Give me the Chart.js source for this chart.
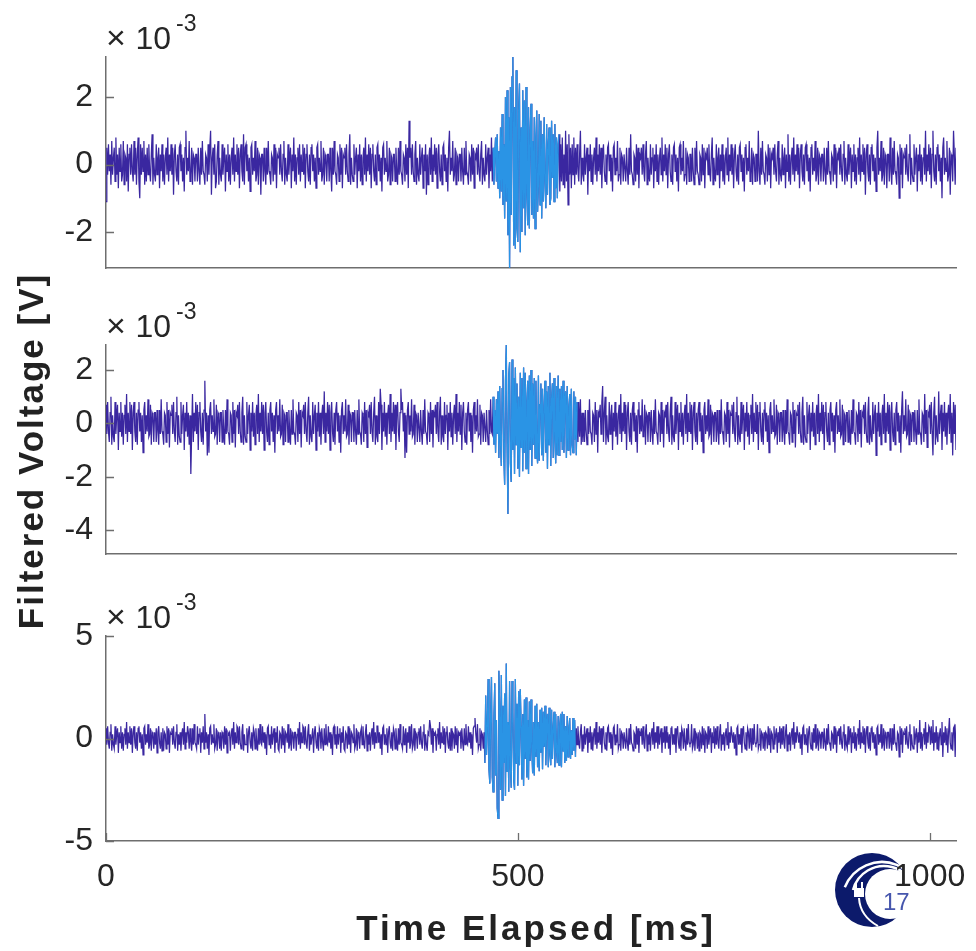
<!DOCTYPE html>
<html>
<head>
<meta charset="utf-8">
<script src="https://cdn.jsdelivr.net/npm/chart.js@4/dist/chart.umd.min.js"></script>
<style>
    body { margin: 0; background: #fff; }
    #wrap { position: relative; width: 976px; height: 951px; }
    #wrap canvas { position: absolute; left: 0; top: 0; }
</style>
</head>
<body>
<div id="wrap">
    <canvas id="ch1" width="976" height="951"></canvas>
    <canvas id="ch2" width="976" height="951"></canvas>
    <canvas id="ch3" width="976" height="951"></canvas>
</div>
<script>
// time base (ms): one sample every SAMPLE_MS, last sample at T_END
const SAMPLE_MS = 1;
const T_END = 1032;
const X_TICKS = [0, 500, 1000];

// filtered voltage, units of 1e-3 V, 50 samples per line
const ch1 = [
    -1.1,.5,-.3,.6,-.2,.3,-.6,.7,-.3,.2, .5,-.5,.8,-.3,.3,-.7,.5,-.2,.6,-.5, -.3,.7,-.6,.3,.2,-.5,.6,-.8,.3,.5, -.3,.6,-.2,-.5,.7,-.3,.5,-.6,.3,.8, -.5,-1.0,.6,-.3,.5,-.2,.7,-.6,.3,-.5,
    .5,-.3,.6,-.2,-.5,.3,.9,-.6,.2,-.3, -.5,.6,-.3,.2,.5,-.7,.3,-.2,.6,-.5, .3,-.6,.2,.5,-.3,.8,-.5,.3,-.2,.6, -.3,.5,-.9,.3,.6,-.2,-.5,.3,-.6,.5, .6,-.2,.3,-.5,.2,-.8,.5,1.0,-.3,.2,
    -.2,.7,-.5,-.3,.5,-.6,.3,.2,-.5,.3, .3,-.5,.5,-.2,-.6,.5,-.3,.7,-.2,-.3, -.6,.3,.2,-.5,.6,-.3,.5,1.0,-.9,.2, .5,-.3,.6,-.7,-.5,.3,.7,-.6,.2,-.3, -.5,.6,-.3,.2,.5,-.8,.3,-.2,.6,-.5,
    .3,-.6,.2,.5,-.3,.8,-.5,.3,-.2,.6, -.3,.5,-.7,.3,.6,-.2,-.5,.9,-.6,.5, .6,-.2,.3,-.5,.2,-.8,.5,.6,-.3,.2, -.2,.7,-.5,-.3,.5,-.6,.3,.2,-.9,.3, .3,-.5,.5,-.2,-.6,.5,-.3,.7,-.2,-.3,
    -.6,.3,.2,-.5,.6,-.3,.5,-.7,.3,.2, .5,-.3,.6,-.2,-.5,.3,.7,-.6,.2,-.3, -.5,.6,-.3,.2,.5,-.7,.3,-.2,.8,-.5, .3,-.6,.2,.5,-.3,.6,-.5,.3,-.2,.6, -.3,.5,-.7,.3,.6,-.2,-.5,.3,-.6,.5,
    .6,-.2,.3,-.5,.2,-.7,.5,.6,-.3,.2, -.2,.7,-.5,-.3,.5,-.6,.3,.2,-.5,.3, .3,-.5,.5,-.2,-.8,.5,-.3,.7,-.2,-.3, -.6,.3,.2,-.5,.6,-.3,.5,-.7,.3,.2, .5,-.3,.6,-.2,-.5,.3,.9,-.6,.2,-.3,
    -.5,.6,-.3,.2,.5,-.7,.3,-.2,.6,-.5, .3,-.6,.2,.5,-.3,.8,-.5,.3,-.2,.6, -.3,.5,-.7,.3,.6,-.2,-.5,.3,-.6,.5, .6,-.2,.3,-.5,.2,-.8,.5,.6,-.3,.2, -.2,.7,-.5,-.3,.5,-.6,.3,.2,-.5,.3,
    .3,-.5,.5,-.2,-.6,.5,-.3,.7,-.2,-.3, -.6,.3,.2,-.5,.6,-.3,.5,-.7,1.3,.2, .5,-.3,.6,-.2,-.5,.3,.7,-.6,.2,-.3, -.5,.6,-.3,.2,.5,-.7,.3,-.2,.6,-.9, .3,-.6,.2,.5,-.3,.8,-.5,.3,-.2,.6,
    -.3,.5,-.7,.3,.6,-.2,-.5,.3,-.6,.5, .6,-.2,.3,-.5,.2,-.8,.5,1.0,-.3,.2, -.2,.7,-.5,-.3,.5,-.6,.3,.2,-.5,.3, .3,-.5,.5,-.2,-.6,.5,-.3,.7,-.2,-.3, -.6,.3,.2,-.5,.6,-.3,.5,-.7,.3,.2,
    .5,-.3,.6,-.2,-.5,.3,.7,-.6,.2,-.3, -.5,.6,-.3,.2,.5,-.7,.3,-.2,.8,-.5, .5,-.6,.3,.8,-.5,.9,-.7,.4,-1.0,1.1, -.8,1.5,-1.2,.6,-1.6,2.0,-1.1,2.2,-2.1,1.4, -3.07,2.3,-1.5,2.6,3.19,-2.4,1.7,-2.5,2.8,-1.9,
    -2.3,1.6,2.4,-2.6,1.1,-2.0,2.2,-1.3,1.9,-2.1, 2.3,-.9,-1.8,1.7,-1.9,1.0,1.8,-1.5,.7,-1.6, 1.4,-1.9,.8,1.6,-1.4,-.6,1.5,-1.2,1.3,-1.6, .9,-1.1,1.4,-.5,-1.3,1.2,-.9,.6,1.1,-1.2, -1.0,1.3,-.4,.9,-1.1,1.2,-.7,.8,-1.0,.6,
    .9,-.8,.6,-.5,.8,-.6,.3,-.7,1.0,-.5, .6,-1.2,.9,-.3,.5,-.7,.6,-.3,.8,-.6, .5,-.3,.6,-.2,-.5,.3,1.0,-.6,.2,-.3, -.5,.6,-.3,.2,.5,-.9,.3,-.2,.6,-.5, .3,-.6,.2,.5,-.3,.8,-.5,.3,-.2,.6,
    -.3,.5,-.7,.3,.6,-.2,-.5,.3,-.6,.5, .6,-.2,.3,-.5,.2,-.8,.5,.6,-.3,.2, -.2,.7,-.5,-.3,.5,-.6,.3,.2,-.5,.3, .3,-.5,.5,-.2,-.6,.5,-.3,.9,-.2,-.3, -.6,.3,.2,-.5,.6,-.3,.5,-.7,.3,.2,
    .5,-.3,.6,-.2,-.5,.3,.7,-.6,.2,-.3, -.5,.6,-.3,.2,.5,-.7,.3,-.2,.6,-.5, .3,-.6,.2,.5,-.3,.8,-.5,.3,-.2,.6, -.3,.5,-.7,.3,.6,-.2,-.5,.3,-.6,.5, .6,-.2,.3,-.5,.2,-.8,.5,.6,-.3,.2,
    -.2,.7,-.5,-.3,.5,-.6,.3,.2,-.5,.3, .3,-.5,.5,-.2,-.6,.5,-.3,.7,-.2,-.3, -.6,.3,.2,-.5,.6,-.3,.5,-.7,.3,.2, .5,-.3,.6,-.2,-.5,.3,.8,-.6,.2,-.3, -.5,.6,-.3,.2,.5,-.7,.3,-.2,.6,-.5,
    .3,-.6,.2,.5,-.3,.8,-.5,.3,-.2,.6, -.3,.5,-.7,.3,.6,-.2,-.5,.3,-.6,.5, .6,-.2,.3,-.5,.2,-.8,.5,.6,-.3,.2, -.2,.7,-.5,-.3,.5,-.6,.3,.2,-.5,.3, .3,-.5,1.0,-.2,-.6,.5,-.3,.7,-.2,-.3,
    -.6,.3,.2,-.5,.6,-.3,.5,-.7,.3,.2, .5,-.3,.6,-.2,-.5,.3,.7,-.6,.2,-.3, -.5,.6,-.3,.2,.5,-.7,.3,-.2,.9,-.5, .3,-.6,.2,.5,-.3,.8,-.5,.3,-.2,.6, -.3,.5,-.7,.3,.6,-.2,-.5,.3,-.6,.5,
    .6,-.2,.3,-.5,.2,-.8,.5,.6,-.3,.2, -.2,.7,-.5,-.3,.5,-.6,.3,.2,-.5,.3, .3,-.5,.5,-.2,-.6,.5,-.3,.7,-.2,-.3, -.6,.3,.2,-.5,.6,-.3,.5,-.7,.3,.2, .5,-.3,.6,-.2,-.5,.3,.7,-.6,.2,-.3,
    -.5,.6,-.3,.2,.5,-.7,.3,-.2,.6,-.5, .3,-.6,.2,.5,-.3,.8,-.5,.3,-.2,.6, -.3,.5,-.9,.3,.6,-.2,-.5,.3,-.6,.5, .6,-.2,.3,-.5,.2,-.8,.5,1.0,-.3,.2, -.2,.7,-.5,-.3,.5,-.6,.3,.2,-.7,.3,
    .3,-.5,.8,-.2,-.6,.5,-.3,.7,-.2,-.3, -.6,.3,.2,-1.0,.6,-.3,.5,-.7,.3,.2, .5,-.3,.6,-.2,-.5,.3,.9,-.6,.2,-.3, -.5,.6,-.3,.2,.5,-.8,.3,-.2,.6,-.5, .3,-.6,.2,.5,-.3,1.0,-.5,.3,-.2,.6,
    -.3,.5,-.7,.3,1.0,-.2,-.5,.3,-.6,.5, .6,-.2,.3,-.5,.2,-1.0,.5,.8,-.3,.2, -.2,.7,-.5,-.3,.5,-.9,.3,.2,-.5,1.0, .3,-.6,.5
];
const ch2 = [
    .7,-.4,.8,-.3,-.7,.4,1.0,-.8,.3,-.5, -.7,.8,-.4,.3,.7,-1.0,.4,-.3,.8,-.5, .4,-.8,.3,.7,-.4,1.1,-.7,.4,-.3,.8, -.4,.7,-1.0,.4,.8,-.3,-.7,.4,-.8,.5, .8,-.3,.4,-.7,.3,-1.1,.5,.8,-.4,.3,
    -.3,.9,-.5,-.4,.7,-.8,.4,.3,-.7,.4, .4,-.7,.5,-.3,-.8,.5,-.4,.9,-.3,-.4, -.8,.4,.3,-.7,.8,-.4,.5,-.9,.4,.3, .7,-.4,.8,-.3,-.7,.4,1.0,-.8,.3,-.5, -.7,.8,-.4,.3,.7,-1.0,.4,-.3,.8,-.5,
    .4,-.8,.3,-1.9,-.4,1.1,-.7,.4,-.3,.8, -.4,.7,-1.0,.4,.8,-.3,-.7,.4,-.8,.5, 1.6,-.3,.4,-1.2,.3,-1.1,.5,.8,-.4,.3, -.3,.9,-.5,-.4,.7,-.8,.4,.3,-.7,.4, .4,-.7,.5,-.3,-.8,.5,-.4,.9,-.3,-.4,
    -.8,.4,.3,-.7,.8,-.4,.5,-.9,.4,.3, .7,-.4,.8,-.3,-.7,.4,1.0,-.8,.3,-.5, -.7,.8,-.4,.3,.7,-1.0,.4,-.3,.8,-.5, .4,-.8,.3,.7,-.4,1.1,-.7,.4,-.3,.8, -.4,.7,-1.0,.4,.8,-.3,-.7,.4,-.8,.5,
    .8,-.3,.4,-.7,.3,-1.1,.5,.8,-.4,.3, -.3,.9,-.5,-.4,.7,-.8,.4,.3,-.7,.4, .4,-.7,.5,-.3,-.8,.5,-.4,.9,-.3,-.4, -.8,.4,.3,-.7,.8,-.4,.5,-.9,.4,.3, .7,-.4,.8,-.3,-.7,.4,1.0,-.8,.3,-.5,
    -.7,.8,-.4,.3,.7,-1.0,.4,-.3,.8,-.5, .4,-.8,.3,.7,-.4,1.2,-.7,.4,-.3,.8, -.4,.7,-1.0,.4,.8,-.3,-.7,.4,-.8,.5, .8,-.3,.4,-.7,.3,-1.1,.5,.8,-.4,.3, -.3,.9,-.5,-.4,.7,-.8,.4,.3,-.7,.4,
    .4,-.7,.5,-.3,-.8,.5,-.4,.9,-.3,-.4, -.8,.4,.3,-.7,.8,-.4,.5,-.9,.4,.3, .7,-.4,.8,-.3,-.7,.4,1.0,-.8,.3,-.5, -.7,.8,-.4,1.3,.7,-1.0,.4,-.3,.8,-.5, .4,-.8,.3,.7,-.4,1.1,-.7,.4,-.3,.8,
    -.4,.7,-1.0,.4,.8,-.3,-.7,.4,1.3,.5, .8,-.3,.4,-1.3,.3,-1.1,.5,.8,-.4,.3, -.3,.9,-.5,-.4,.7,-.8,.4,.3,-.7,.4, .4,-.7,.5,-.3,-.8,.5,-.4,.9,-.3,-.4, -.8,.4,.3,-.7,.8,-.4,.5,-.9,.4,.3,
    .7,-.4,.8,-.3,-.7,.4,1.0,-.8,.3,-.5, -.7,.8,-.4,.3,.7,-1.0,.4,-.3,.8,-.5, .4,-.8,.3,.7,-.4,1.1,-.7,.4,-.3,.8, -.4,.7,-1.0,.4,.8,-.3,-.7,.4,-.8,.5, .8,-.3,.4,-.7,.3,-1.1,.5,.8,-.4,.3,
    -.3,.9,-.5,-.4,.7,-.8,.4,.3,-.7,.4, .4,-.7,.5,-.3,-.8,.5,-.4,.9,-.3,-.4, 1.0,-.8,.5,-1.1,.9,-.4,1.2,-1.3,1.4,-.7, -1.6,1.3,2.0,-1.2,-2.3,1.6,2.94,-.9,-3.4,1.8, 2.3,-1.5,-2.2,2.4,-1.0,1.7,-1.9,2.1,-.8,1.5,
    -1.7,1.0,-2.0,1.9,-.9,1.7,-1.8,2.1,-1.1,1.9, -1.7,.8,1.6,-1.9,1.8,-1.0,2.0,-1.6,1.5,-.8, 1.7,-1.3,1.6,-.9,-1.5,1.8,-1.4,.7,1.5,-1.2, 1.3,-1.4,.6,1.6,-1.1,1.2,-1.7,1.4,-.8,1.9, -1.6,.9,1.5,-1.3,1.7,-.6,-1.5,1.4,-1.2,1.8,
    -1.2,1.3,-.7,1.4,-1.0,1.6,-1.1,.8,1.2,-1.3, 1.4,-1.0,.6,1.1,-1.2,1.3,-.8,-1.1,1.2,-.6, 1.0,-1.2,.8,-.7,.8,-.5,.9,-.8,.4,-.7, .4,-.7,.5,-.3,-.8,.5,-.4,.9,-.3,-.4, -.8,.4,.3,-.7,.8,-.4,.5,-1.1,.4,.3,
    .7,-.4,.8,1.4,-.7,.4,1.0,-.8,.3,-.5, -.7,.8,-.4,.3,.7,-1.0,.4,-.3,.8,-.5, .4,-.8,.3,.7,-.4,1.1,-.7,.4,-.3,.8, -.4,.7,-1.0,.4,.8,-.3,-.7,.4,-.8,.5, .8,-.3,.4,-.7,.3,-1.1,.5,.8,-.4,.3,
    -.3,.9,-.5,-.4,.7,-.8,.4,.3,-.7,.4, .4,-.7,.5,-.3,-.8,.5,-.4,.9,-.3,-.4, -.8,.4,.3,-.7,.8,-.4,.5,-.9,.4,.3, .7,-.4,.8,-.3,-.7,.4,1.0,-.8,.3,-.5, -.7,.8,-.4,.3,.7,-1.0,.4,-.3,.8,-.5,
    .4,-.8,.3,.7,-.4,1.1,-.7,.4,-.3,.8, -.4,.7,-1.0,.4,.8,-.3,-.7,.4,-.8,.5, .8,-.3,.4,-.7,.3,-1.1,.5,.8,-.4,.3, -.3,.9,-.5,-.4,.7,-.8,.4,.3,-.7,.4, .4,-.7,.5,-.3,-.8,.5,-.4,.9,-.3,-.4,
    -.8,.4,.3,-.7,.8,-.4,.5,-.9,.4,.3, .7,-.4,.8,-.3,-.7,.4,1.0,-.8,.3,-.5, -.7,.8,-.4,.3,.7,-1.0,.4,-.3,.8,-.5, .4,-.8,.3,.7,-.4,1.1,-.7,.4,-.3,.8, -.4,.7,-1.0,.4,.8,-.3,-.7,.4,-.8,.5,
    .8,-.3,.4,-.7,.3,-1.1,.5,.8,-.4,.3, -.3,.9,-.5,-.4,.7,-.8,.4,.3,-.7,.4, .4,-.7,.5,-.3,-.8,.5,-.4,.9,-.3,-.4, -.8,.4,.3,-.7,.8,-.4,.5,-.9,.4,.3, .7,-.4,.8,-.3,-.7,.4,1.0,-.8,.3,-.5,
    -.7,.8,-.4,.3,.7,-1.0,.4,-.3,.8,-.5, .4,-.8,.3,.7,-.4,1.1,-.7,.4,-.3,.8, -.4,.7,-1.0,.4,.8,-.3,-.7,.4,-.8,.5, .8,-.3,.4,-.7,.3,-1.1,.5,.8,-.4,.3, -.3,.9,-.5,-.4,.7,-.8,.4,.3,-.7,.4,
    .4,-.7,.5,-.3,-.8,.5,-.4,.9,-.3,-.4, -.8,.4,.3,-.7,.8,-.4,.5,-.9,.4,.3, .7,-.4,.8,-.3,-.7,.4,1.0,-.8,.3,-.5, -.7,.8,-.4,.3,.7,-1.2,.4,-.3,.8,-.5, .4,-.8,.3,.7,-.4,1.1,-.7,.4,-.3,.8,
    -.4,.7,-1.0,.4,.8,-.3,-.7,.4,-.8,.5, .8,-.3,.4,-.7,.3,-1.1,.5,1.2,-.4,.3, -.3,.9,-.5,-.4,.7,-.8,.4,.3,-.7,.4, .4,-.7,.5,-.3,-.8,.5,-.4,.9,-.3,-.4, -.8,.4,.3,-.7,1.1,-.4,.5,-.9,.4,.3,
    .7,-.4,.8,-.3,-1.2,.4,1.0,-.8,.3,-.5, -.7,1.2,-.4,.3,.7,-1.0,.4,-.3,.8,-.5, .4,-.8,.3,.7,-.4,1.1,-.7,.4,-1.2,.8, -.4,.7,-1.0
];
const ch3 = [
    .5,-.3,.6,-.2,-.5,.3,.7,-.6,.2,-.3, -.5,.6,-.3,.2,.5,-.7,.3,-.2,.6,-.5, .3,-.6,.2,.5,-.3,.8,-.5,.3,-.2,.6, -.3,.5,-.7,.3,.6,-.2,-.5,.3,-.6,.5, .6,-.2,.3,-.5,.2,-.8,.5,.6,-.3,.2,
    -.2,.7,-.5,-.3,.5,-.6,.3,.2,-.5,.3, -.3,.5,-.7,.3,.6,-.2,-.5,.3,-.6,.5, -.6,.3,.2,-.5,.6,-.3,.5,-.7,.3,.2, .5,-.3,.6,-.2,-.5,.3,.7,-.6,.2,-.3, .3,-.6,.2,.5,-.3,.8,-.5,.3,-.2,.6,
    .3,-.5,.5,-.2,-.6,.5,-.3,.7,-.2,-.3, -.5,.6,-.3,.2,.5,-.7,.3,-.2,.6,-.5, 1.2,-.2,.3,-.5,.2,-.8,.5,.6,-.3,.2, -.2,.7,-.5,-.3,.5,-.6,.3,.2,-.5,.3, -.6,.3,.2,-.5,.6,-.3,.5,-.7,.3,.2,
    .3,-.6,.2,.5,-.3,.8,-.5,.3,-.2,.6, .5,-.3,.6,-.2,-.5,.3,.7,-.6,.2,-.3, -.3,.5,-.7,.3,.6,-.2,-.5,.3,-.6,.5, .3,-.5,.5,-.2,-.6,.5,-.3,.7,-.2,-.3, .6,-.2,.3,-.5,.2,-.8,.5,.6,-.3,.2,
    -.5,.6,-.3,.2,.5,-.7,.3,-.2,.6,-.5, -.6,.3,.2,-.5,.6,-.3,.5,-.7,.3,.2, -.2,.7,-.5,-.3,.5,-.6,.3,.2,-.5,.3, .3,-.6,.2,.5,-.3,.8,-.5,.3,-.2,.6, .5,-.3,.6,-.2,-.5,.3,.7,-.6,.2,-.3,
    -.3,.5,-.7,.3,.6,-.2,-.5,.3,-.6,.5, .3,-.5,.5,-.2,-.6,.5,-.3,.7,-.2,-.3, .6,-.2,.3,-.5,.2,-.8,.5,.6,-.3,.2, -.5,.6,-.3,.2,.5,-.7,.3,-.2,.6,-.5, -.6,.3,.2,-.5,.6,-.3,.5,-.7,.3,.2,
    -.2,.7,-.5,-.3,.5,-.6,.3,.2,-.5,.3, .5,-.3,.6,-.2,-.5,.3,.7,-.6,.2,-.3, .3,-.6,.2,.5,-.3,.8,-.5,.3,-.2,.6, .6,-.2,.3,-.5,.2,-.8,.5,.6,-.3,.2, -.3,.5,-.7,.3,.6,-.2,-.5,.3,-.6,.5,
    .3,-.5,.5,-.2,-.6,.5,-.3,.7,-.2,-.3, -.5,.6,-.3,.2,.5,-.7,.3,-.2,.6,-.5, -.2,.7,-.5,-.3,.5,-.6,.3,.2,-.5,.3, .5,-.3,.6,-.2,-.5,.3,.7,-.6,.2,-.3, -.6,.3,.2,.9,.6,-.3,.5,-.7,.3,.2,
    .3,-.6,.2,.5,-.3,.8,-.5,.3,-.2,.6, -.3,.5,-.7,.3,.6,-.2,-.5,.3,-.6,.5, -.6,.3,.2,-.5,.6,-.3,.5,-.7,.3,.2, .3,-.5,.5,-.2,-.6,.5,-.3,.7,-.2,-.3, .6,-.2,.3,-.5,.2,-.8,.5,.6,1.0,.2,
    -.2,.7,-.5,-.3,.5,-.6,.3,.2,-.5,.3, -1.2,2.1,-.8,.6,2.9,-1.5,-2.2,1.2,3.0,-1.9, -2.6,1.0,2.7,-1.8,.9,-3.4,-3.9,3.3,1.4,-2.5, 3.1,-3.0,1.6,-1.2,2.2,-2.8,3.66,-1.6,.8,-2.6, 2.8,-1.4,-2.4,2.8,1.3,-2.0,-2.5,2.9,-1.2,1.7,
    -2.3,2.3,-1.3,2.4,.6,-2.0,1.2,-2.3,1.9,-1.0, 2.0,-1.9,.9,-2.0,1.8,-1.1,1.9,-.5,-1.7,.8, -1.8,1.6,-.9,1.7,-1.4,.8,-1.6,1.4,-.7,1.5, -1.5,1.3,-.4,1.6,-1.3,.6,1.2,-1.4,1.5,-.8, -1.3,1.4,-1.0,.5,1.3,-1.4,1.2,-.6,-1.2,1.1,
    -1.3,.7,1.2,-1.4,1.3,-.6,1.2,-1.2,.6,-1.1, 1.1,-.9,.5,1.0,-1.0,.4,-.8,1.0,-.6,.9, -.9,.5,-.3,.6,-.2,-.5,.3,.7,-.6,.2, -.5,.6,-.3,.2,.5,-.7,.3,-.2,.6,-.5, .3,-.6,.2,.5,-.3,.8,-.5,.3,-.2,.6,
    -.3,.5,-.7,.3,.6,-.2,-.5,.3,-.6,.5, .6,-.2,.3,-.5,.2,-.8,.5,.6,-.3,.2, -.2,.7,-.5,-.3,.5,-.6,.3,.2,-.5,.3, .3,-.5,.5,-.2,-.6,.5,-.3,.7,-.2,-.3, -.6,.3,.2,-.5,.6,-.3,.5,-.7,.3,.2,
    .5,-.3,.6,-.2,-.5,.3,.7,-.6,.2,-.3, .3,-.6,.2,.5,-.3,.8,-.5,.3,-.2,.6, -.5,.6,-.3,.2,.5,-.7,.3,-.2,.6,-.5, .6,-.2,.3,-.5,.2,-.8,.5,.6,-.3,.2, -.3,.5,-.7,.3,.6,-.2,-.5,.3,-.6,.5,
    .3,-.5,.5,-.2,-.6,.5,-.3,.7,-.2,-.3, -.2,.7,-.5,-.3,.5,-.6,.3,.2,-.5,.3, -.6,.3,.2,-.5,.6,-.3,.5,-.7,.3,.2, -.5,.6,-.3,.2,.5,-.7,.3,-.2,.6,-.5, .5,-.3,.6,-.2,-.5,.3,.7,-.6,.2,-.3,
    .3,-.6,.2,.5,-.3,.8,-.5,.3,-.2,.6, .6,-.2,.3,-.5,.2,-.8,.5,.6,-.3,.2, -.3,.5,-.7,.3,.6,-.2,-.5,.3,-.6,.5, .3,-.5,.5,-.2,-.6,.5,-.3,.7,-.2,-.3, -.2,.7,-.5,-.3,.5,-.6,.3,.2,-.5,.3,
    -.6,.3,.2,-.5,.6,-.3,.5,-.7,.3,.2, -.5,.6,-.3,.2,.5,-.7,.3,-.2,.6,-.5, .5,-.3,.6,-.2,-.5,.3,.7,-.6,.2,-.3, .3,-.6,.2,.5,-.3,.8,-.5,.3,-.2,.6, .6,-.2,.3,-.5,.2,-.8,.5,.6,-.3,.2,
    -.3,.5,-.7,.3,.6,-.2,-.5,.3,-.6,.5, -.2,.7,-.5,-.3,.5,-.6,.3,.2,-.5,.3, .3,-.5,.5,-.2,-.6,.5,-.3,.7,-.2,-.3, -.6,.3,.2,-.5,.6,-.3,.5,-.7,.3,.2, .5,-.3,.6,-.2,-.5,.3,.7,-.6,.2,-.3,
    -.5,.6,-.3,.2,.5,-.7,.3,-.2,.6,-.5, .3,-.6,.2,.5,-.3,.9,-.5,.3,-.2,.6, -.3,.5,-.7,.3,.6,-.2,-.5,.3,-.6,.5, .6,-.2,.3,-.5,.2,-.8,.5,.6,-.3,.2, -.2,.7,-.5,-.3,.5,-.6,.3,.2,-.5,.3,
    .3,-.5,.5,-.2,-.6,.5,-.3,.7,-.2,-.3, -.6,.3,.2,-.9,.6,-.3,.5,-.7,.3,.2, .5,-.3,.6,-.2,-.5,.3,.7,-.6,.2,-.3, -.5,.6,-.3,.2,.5,-.7,.3,-.2,.9,-.5, .3,-.6,.2,.5,-.3,.8,-.5,.3,-.2,.6,
    .5,-.3,.6,-.2,.9,-.6,.3,-.2,.6,-.5, .3,-.6,.2,.5,-.3,.8,-.9,.3,-.2,.6, -.3,.5,-.7,.3,1.0,-.2,-.5,.3,-.6,.5, .6,-.9,.7
];

// detected event window per channel, [start, end] in ms
const event1 = [470, 550];
const event2 = [470, 572];
const event3 = [460, 570];

// y limits and ticks per channel (1e-3 V)
const yLim1 = [-3.07, 3.19];
const yLim2 = [-4.9, 2.94];
const yLim3 = [-5, 5];
const yTicks1 = [-2, 0, 2];
const yTicks2 = [-4, -2, 0, 2];
const yTicks3 = [-5, 0, 5];

const DARK = '#3a27a0';
const LIGHT = '#2a94e5';
const AXIS = '#6e6e6e';
const TEXT = '#262626';
const FONT = "'Liberation Sans', Arial, Helvetica, sans-serif";
const W = 976, H = 951;

// MATLAB style ticks pointing into the plot
const innerTicks = {
    id: 'innerTicks',
    afterDatasetsDraw(chart, args, opts) {
        const {ctx, chartArea: a, scales} = chart;
        ctx.save();
        ctx.strokeStyle = AXIS;
        ctx.lineWidth = 1.3;
        ctx.beginPath();
        scales.y.ticks.forEach(t => {
            const y = Math.round(scales.y.getPixelForValue(t.value)) + 0.5;
            ctx.moveTo(a.left, y);
            ctx.lineTo(a.left + 8, y);
        });
        if (opts.x) {
            scales.x.ticks.forEach(t => {
                const x = Math.round(scales.x.getPixelForValue(t.value)) + 0.5;
                ctx.moveTo(x, a.bottom);
                ctx.lineTo(x, a.bottom - 8);
            });
        }
        ctx.stroke();
        ctx.restore();
    }
};

// "x10^-3" multiplier above each y axis
const multiplier = {
    id: 'multiplier',
    afterDraw(chart) {
        const {ctx, chartArea: a} = chart;
        const base = a.top - 8;
        ctx.save();
        ctx.fillStyle = TEXT;
        ctx.textBaseline = 'alphabetic';
        ctx.textAlign = 'left';
        ctx.font = '34px ' + FONT;
        ctx.fillText('\u00d7', 106, base);
        ctx.font = '32px ' + FONT;
        ctx.fillText('10', 135.5, base);
        ctx.font = '23px ' + FONT;
        ctx.fillText('-3', 176, base - 18);
        ctx.restore();
    }
};

function drawLogo(ctx) {
    ctx.save();
    ctx.fillStyle = '#0c1a6b';
    ctx.beginPath();
    ctx.arc(872, 890, 37, 0, Math.PI * 2);
    ctx.fill();
    ctx.fillStyle = '#fff';
    ctx.beginPath();
    ctx.arc(890, 894, 25, 0, Math.PI * 2);
    ctx.fill();
    // gaps between the swoosh bands
    ctx.strokeStyle = '#fff';
    ctx.lineWidth = 2.5;
    ctx.beginPath();
    ctx.arc(884, 898, 32, Math.PI * 1.08, Math.PI * 1.9);
    ctx.stroke();
    ctx.beginPath();
    ctx.arc(882, 902, 40, Math.PI * 1.12, Math.PI * 1.88);
    ctx.stroke();
    // plug and cord
    ctx.lineWidth = 2;
    ctx.beginPath();
    ctx.moveTo(859, 898);
    ctx.quadraticCurveTo(860, 916, 878, 926);
    ctx.stroke();
    ctx.fillStyle = '#fff';
    ctx.fillRect(854, 888, 10, 9);
    ctx.fillRect(855, 882, 2, 6);
    ctx.fillRect(861, 882, 2, 6);
    ctx.fillStyle = '#4656ad';
    ctx.font = '24px ' + FONT;
    ctx.fillText('17', 883, 910);
    ctx.restore();
}

// axis titles and logo, drawn once on the bottom panel
const decor = {
    id: 'decor',
    beforeDraw(chart) {
        drawLogo(chart.ctx);
    },
    afterDraw(chart) {
        const ctx = chart.ctx;
        ctx.save();
        ctx.fillStyle = '#222';
        ctx.font = 'bold 35px ' + FONT;
        ctx.letterSpacing = '3px';
        ctx.textAlign = 'center';
        ctx.textBaseline = 'alphabetic';
        ctx.fillText('Time Elapsed [ms]', 536, 940);
        ctx.translate(43, 451);
        ctx.rotate(-Math.PI / 2);
        ctx.letterSpacing = '2px';
        ctx.fillText('Filtered Voltage [V]', 0, 0);
        ctx.restore();
    }
};

function makePanel(id, values, eventMs, yLim, yTicks, top, bottom, isBottom) {
    const all = values.map((v, i) => ({x: i * SAMPLE_MS, y: v}));
    const burst = all.filter(p => p.x >= eventMs[0] && p.x <= eventMs[1]);
    const extra = isBottom ? [innerTicks, multiplier, decor] : [innerTicks, multiplier];

    return new Chart(document.getElementById(id), {
        type: 'line',
        data: {
            datasets: [
                {data: burst, borderColor: LIGHT, borderWidth: 1.25, pointRadius: 0},
                {data: all, borderColor: DARK, borderWidth: 1.25, pointRadius: 0}
            ]
        },
        options: {
            responsive: false,
            animation: false,
            devicePixelRatio: 1,
            events: [],
            normalized: true,
            layout: {padding: {left: 0, right: W - 956, top: top, bottom: isBottom ? 0 : H - bottom}},
            plugins: {
                legend: {display: false},
                tooltip: {enabled: false},
                innerTicks: {x: isBottom}
            },
            scales: {
                x: {
                    type: 'linear',
                    min: 0,
                    max: T_END,
                    grid: {display: false, drawTicks: false},
                    border: {display: true, color: AXIS, width: 1.5},
                    ticks: {
                        display: isBottom,
                        padding: 17,
                        maxRotation: 0,
                        autoSkip: false,
                        color: TEXT,
                        font: {family: FONT, size: 32},
                        callback: v => String(v)
                    },
                    afterBuildTicks: s => { s.ticks = X_TICKS.map(v => ({value: v})); },
                    afterFit: s => {
                        s.height = isBottom ? H - bottom : 0;
                        s.paddingLeft = 0;
                        s.paddingRight = 0;
                    }
                },
                y: {
                    min: yLim[0],
                    max: yLim[1],
                    grid: {display: false, drawTicks: false},
                    border: {display: true, color: AXIS, width: 1.5},
                    ticks: {
                        padding: 13,
                        autoSkip: false,
                        color: TEXT,
                        font: {family: FONT, size: 32},
                        callback: v => String(v)
                    },
                    afterBuildTicks: s => { s.ticks = yTicks.map(v => ({value: v})); },
                    afterFit: s => {
                        s.width = 106;
                        s.paddingTop = 0;
                        s.paddingBottom = 0;
                    }
                }
            }
        },
        plugins: extra
    });
}

makePanel('ch1', ch1, event1, yLim1, yTicks1, 57, 268, false);
makePanel('ch2', ch2, event2, yLim2, yTicks2, 345, 554, false);
makePanel('ch3', ch3, event3, yLim3, yTicks3, 636, 841, true);
</script>
</body>
</html>
